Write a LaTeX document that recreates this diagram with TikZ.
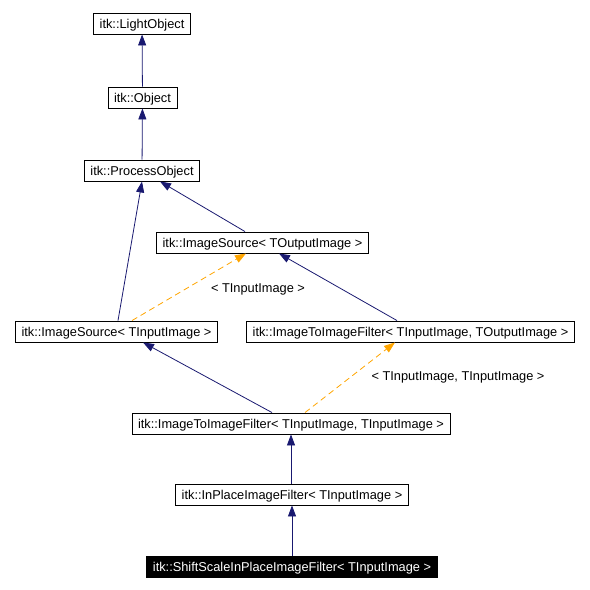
\documentclass[tikz,border=0pt]{standalone}
\usepackage{fontspec}
\setmainfont{Liberation Sans}
\usetikzlibrary{arrows.meta}
\definecolor{edgeblue}{HTML}{191970}
\definecolor{tmplorange}{HTML}{FFA500}

\begin{document}
\begin{tikzpicture}[
    x=1pt, y=-1pt,
    cls/.style={rectangle,draw,line width=0.9pt,
                minimum height=21pt,inner xsep=6pt,inner ysep=0pt,
                text height=13pt,text depth=2.2pt,
                font=\fontsize{12.8}{14}\selectfont},
    leaf/.style={cls,fill=black,text=white},
    inherit/.style={draw=edgeblue,line width=0.8pt,
                    -{Triangle[length=11pt,width=8pt,fill=edgeblue]}},
    tmpl/.style={draw=tmplorange,line width=0.8pt,dash pattern=on 6pt off 4pt,
                 -{Triangle[length=11pt,width=8pt,fill=tmplorange]}},
    tmpllabel/.style={font=\fontsize{12.8}{14}\selectfont}
]
\useasboundingbox (0,0) rectangle (590,590);

% classes
\node[cls]  (light)  at (142,23.5)   {itk::LightObject};
\node[cls]  (obj)    at (142.5,97.5) {itk::Object};
\node[cls]  (proc)   at (142,170.5)  {itk::ProcessObject};
\node[cls]  (isout)  at (262.5,242.5) {itk::ImageSource< TOutputImage >};
\node[cls]  (isin)   at (116.5,331.5) {itk::ImageSource< TInputImage >};
\node[cls]  (ittout) at (410.5,331.5) {itk::ImageToImageFilter< TInputImage, TOutputImage >};
\node[cls]  (ittin)  at (291,423.5)  {itk::ImageToImageFilter< TInputImage, TInputImage >};
\node[cls]  (inplace) at (292,494.5) {itk::InPlaceImageFilter< TInputImage >};
\node[leaf] (shift)  at (292,566.5)  {itk::ShiftScaleInPlaceImageFilter< TInputImage >};

% inheritance
\draw[inherit] (obj) -- (light);
\draw[inherit] (proc) -- (obj);
\draw[inherit] ([xshift=-17.5pt]isout.north) -- ([xshift=18pt]proc.south);
\draw[inherit] ([xshift=1.5pt]isin.north) -- (proc.south);
\draw[inherit] ([xshift=-13.5pt]ittout.north) -- ([xshift=16.5pt]isout.south);
\draw[inherit] ([xshift=-19pt]ittin.north) -- ([xshift=26.5pt]isin.south);
\draw[inherit] (inplace.north -| ittin.south) -- (ittin.south);
\draw[inherit] (shift) -- (inplace);

% template instances
\draw[tmpl] ([xshift=15.5pt]isin.north) -- ([xshift=-16.5pt]isout.south)
  node[tmpllabel,pos=0.5,xshift=69pt,yshift=-2pt] (lblin) {< TInputImage >};
\draw[tmpl] ([xshift=14pt]ittin.north) -- ([xshift=-15.5pt]ittout.south)
  node[tmpllabel,pos=0.5,xshift=108pt,yshift=0pt] (lblinin) {< TInputImage, TInputImage >};

\end{tikzpicture}
\end{document}
